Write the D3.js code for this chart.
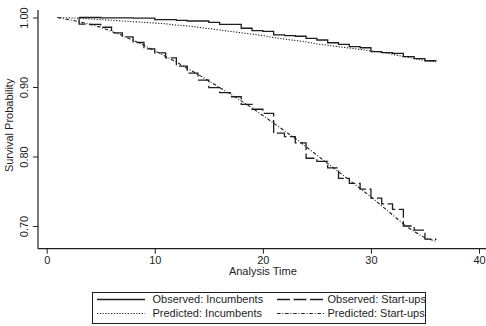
<!DOCTYPE html>
<html>
<head>
<meta charset="utf-8">
<script src="https://cdn.jsdelivr.net/npm/d3@7"></script>
<style>
  html, body { margin: 0; padding: 0; background: #fff; }
  svg { display: block; font-family: "Liberation Sans", Arial, Helvetica, sans-serif; }
</style>
</head>
<body>
<svg id="chart" width="486" height="326"></svg>
<script>
// analysis time (months)
const predTime = [1,2,3,4,5,6,7,8,9,10,11,12,13,14,15,16,17,18,19,20,21,22,23,24,25,26,27,28,29,30,31,32,33,34,35,36];
const obsTime  = [3,4,5,6,7,8,9,10,11,12,13,14,15,16,17,18,19,20,21,22,23,24,25,26,27,28,29,30,31,32,33,34,35,36];

// Kaplan-Meier estimates (observed)
const obsIncumbents = [1.000,1.000,0.9995,0.9995,0.9995,0.999,0.999,0.997,0.997,0.996,0.995,0.995,0.993,0.990,0.990,0.9845,0.981,0.980,0.975,0.974,0.973,0.970,0.9676,0.9637,0.9614,0.958,0.9565,0.951,0.9494,0.9485,0.9436,0.9407,0.9378,0.9364];
const obsStartups   = [0.9905,0.990,0.986,0.978,0.972,0.964,0.955,0.949,0.942,0.930,0.920,0.910,0.899,0.892,0.886,0.875,0.868,0.862,0.8335,0.8285,0.8195,0.7975,0.793,0.7835,0.7686,0.7614,0.753,0.740,0.7317,0.724,0.700,0.694,0.681,0.680];

// model predictions
const predIncumbents = [1.000,0.9995,0.999,0.998,0.997,0.996,0.995,0.994,0.993,0.992,0.991,0.989,0.988,0.986,0.984,0.982,0.980,0.978,0.976,0.974,0.971,0.969,0.967,0.965,0.962,0.960,0.958,0.956,0.954,0.952,0.950,0.947,0.944,0.941,0.938,0.936];
const predStartups   = [1.000,0.997,0.994,0.990,0.986,0.980,0.974,0.967,0.960,0.952,0.944,0.936,0.927,0.918,0.909,0.899,0.890,0.880,0.870,0.859,0.848,0.837,0.826,0.814,0.802,0.790,0.778,0.766,0.754,0.742,0.729,0.716,0.703,0.692,0.683,0.678];

const xTicks = [0, 10, 20, 30, 40];
const yTicks = [0.70, 0.80, 0.90, 1.00];

const series = [
  { label: "Observed: Incumbents",  time: obsTime,  values: obsIncumbents,  step: true,  dash: null },
  { label: "Observed: Start-ups",   time: obsTime,  values: obsStartups,    step: true,  dash: "13,3.5" },
  { label: "Predicted: Incumbents", time: predTime, values: predIncumbents, step: false, dash: "1.2,1.6" },
  { label: "Predicted: Start-ups",  time: predTime, values: predStartups,   step: false, dash: "3.5,1.8,1,1.8" }
];

const ink = "#1e1e1e";
const plot = { left: 38, right: 486, top: 10, bottom: 248.7 };

const svg = d3.select("#chart");

const x = d3.scaleLinear().domain([0, 40]).range([46.7, 479]);
const y = d3.scaleLinear().domain([0.70, 1.00]).range([226, 17.5]);

// axis lines
svg.append("line")
  .attr("x1", plot.left).attr("x2", plot.left)
  .attr("y1", plot.top).attr("y2", plot.bottom)
  .attr("stroke", ink).attr("stroke-width", 1.2);
svg.append("line")
  .attr("x1", plot.left).attr("x2", plot.right)
  .attr("y1", plot.bottom).attr("y2", plot.bottom)
  .attr("stroke", ink).attr("stroke-width", 1.2);

// x axis
const xAxis = svg.append("g")
  .attr("transform", `translate(0,${plot.bottom})`)
  .call(d3.axisBottom(x).tickValues(xTicks).tickSize(5).tickSizeOuter(0).tickPadding(3));
xAxis.select(".domain").remove();
xAxis.selectAll("line").attr("stroke", ink).attr("stroke-width", 1);
xAxis.selectAll("text").attr("fill", ink).style("font-size", "11px")
  .style("font-family", "'Liberation Sans', Arial, sans-serif");

// y axis, labels rotated like stata
const yAxis = svg.append("g")
  .attr("transform", `translate(${plot.left},0)`)
  .call(d3.axisLeft(y).tickValues(yTicks).tickSize(5).tickSizeOuter(0).tickFormat(d3.format(".2f")));
yAxis.select(".domain").remove();
yAxis.selectAll("line").attr("stroke", ink).attr("stroke-width", 1);
yAxis.selectAll("text")
  .attr("x", 0).attr("dy", null)
  .attr("transform", "translate(-10,0) rotate(-90)")
  .attr("text-anchor", "middle")
  .attr("fill", ink).style("font-size", "11px")
  .style("font-family", "'Liberation Sans', Arial, sans-serif");

// titles
svg.append("text")
  .attr("x", x(20)).attr("y", 275)
  .attr("text-anchor", "middle").attr("fill", ink)
  .style("font-size", "11px")
  .text("Analysis Time");
svg.append("text")
  .attr("transform", `translate(12.5,${(plot.top + plot.bottom) / 2 - 4}) rotate(-90)`)
  .attr("text-anchor", "middle").attr("fill", ink)
  .style("font-size", "11px")
  .text("Survival Probability");

// curves
const stepLine = d3.line().x(d => x(d[0])).y(d => y(d[1])).curve(d3.curveStepAfter);
const plainLine = d3.line().x(d => x(d[0])).y(d => y(d[1]));

series.forEach(s => {
  let pts = s.time.map((t, i) => [t, s.values[i]]);
  // KM curve starts at 1 before the first event
  if (s.step) pts = [[s.time[0], 1]].concat(pts);
  svg.append("path")
    .attr("d", (s.step ? stepLine : plainLine)(pts))
    .attr("fill", "none")
    .attr("stroke", ink)
    .attr("stroke-width", s.step ? 1.3 : 1.1)
    .attr("stroke-dasharray", s.dash);
});

// legend
const legend = svg.append("g");
legend.append("rect")
  .attr("x", 92.5).attr("y", 292.5).attr("width", 333).attr("height", 31)
  .attr("fill", "#fff").attr("stroke", ink).attr("stroke-width", 1);

const cols = [97, 277];
const rows = [299.5, 313.5];
series.forEach((s, i) => {
  const cx = cols[i % 2], cy = rows[Math.floor(i / 2)];
  legend.append("line")
    .attr("x1", cx).attr("x2", cx + 48)
    .attr("y1", cy).attr("y2", cy)
    .attr("stroke", ink).attr("stroke-width", s.step ? 1.3 : 1.1)
    .attr("stroke-dasharray", s.dash);
  legend.append("text")
    .attr("x", cx + (i % 2 ? 50.5 : 55.5)).attr("y", cy)
    .attr("dy", "0.35em").attr("fill", ink)
    .style("font-size", "11px")
    .text(s.label);
});
</script>
</body>
</html>
